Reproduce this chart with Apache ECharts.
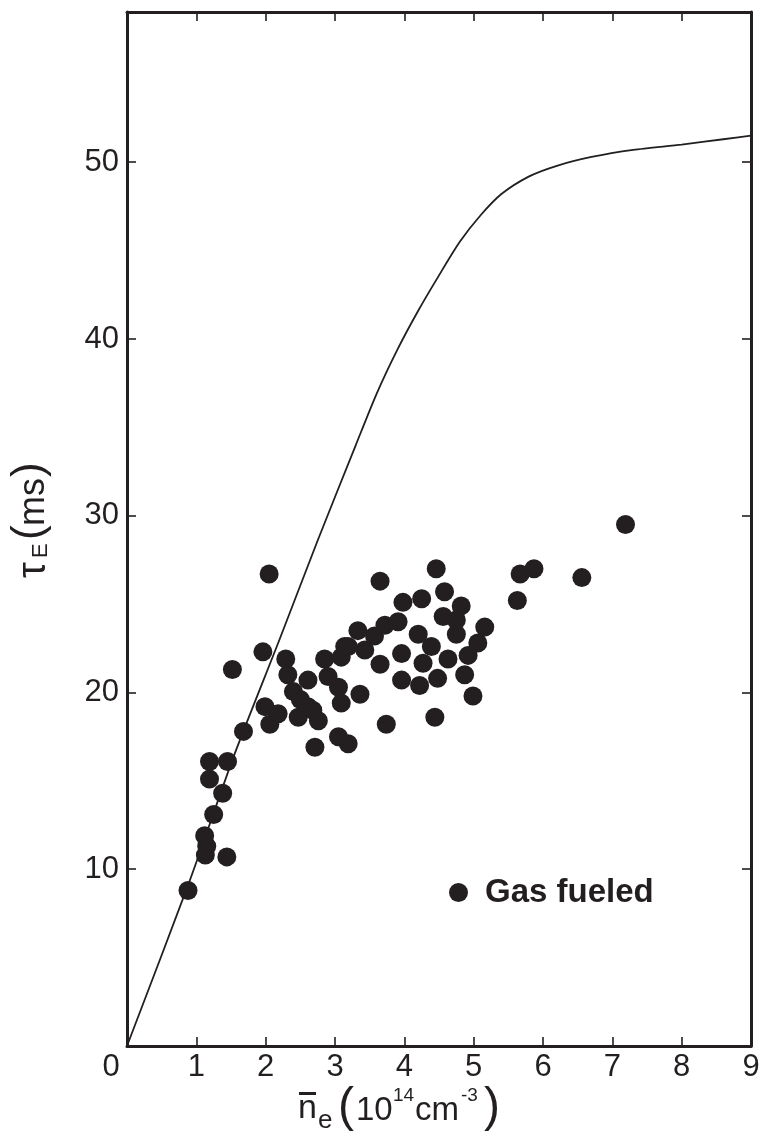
<!DOCTYPE html>
<html>
<head>
<meta charset="utf-8">
<script src="https://cdn.jsdelivr.net/npm/echarts@6/dist/echarts.min.js"></script>
<style>
html,body{margin:0;padding:0;background:#fff;}
#c{width:759px;height:1146px;}
</style>
</head>
<body>
<div id="c"></div>
<script>
// ---- data ----
var xTicks = [0,1,2,3,4,5,6,7,8,9];
var yTickLabels = [10,20,30,40,50];

var curveX = [0, 0.9, 1.55, 2.2, 2.75, 3.3, 3.6, 3.9, 4.2, 4.5, 4.8, 5.1, 5.4, 5.8, 6.2, 6.7, 7.3, 8.0, 8.6, 9.0];
var curveY = [0, 9.3, 16.5, 23.0, 28.6, 34.0, 36.9, 39.4, 41.6, 43.6, 45.5, 47.0, 48.2, 49.2, 49.8, 50.3, 50.7, 51.0, 51.3, 51.5];

var gasX = [0.88,1.13,1.44,1.15,1.12,1.25,1.38,1.19,1.19,1.45,1.68,1.52,1.96,2.05,
            1.99,2.06,2.18,2.29,2.32,2.40,2.47,2.61,2.61,2.76,2.85,2.71,3.05,3.05,3.09,3.14,3.19,
            2.50,2.68,2.90,
            3.36,3.19,3.09,3.33,3.43,3.57,3.65,3.72,3.65,3.74,3.91,3.96,3.96,3.98,4.20,4.22,4.25,4.27,
            4.39,4.44,4.46,4.48,4.56,4.58,4.63,4.75,4.75,4.82,4.87,4.92,4.99,5.06,5.16,
            5.63,5.67,5.87,6.56,7.19];
var gasY = [8.8,10.8,10.7,11.3,11.9,13.1,14.3,15.1,16.1,16.1,17.8,21.3,22.3,26.7,
            19.2,18.2,18.8,21.9,21.0,20.05,18.6,19.2,20.7,18.4,21.9,16.9,17.5,20.3,19.4,22.6,17.1,
            19.6,19.0,20.9,
            19.9,22.6,22.0,23.5,22.4,23.2,21.6,23.8,26.3,18.2,24.0,22.2,20.7,25.1,23.3,20.4,25.3,21.65,
            22.6,18.6,27.0,20.8,24.3,25.7,21.9,24.1,23.3,24.9,21.0,22.1,19.8,22.8,23.7,
            25.2,26.7,27.0,26.5,29.5];

var curveData = curveX.map(function(x,i){return [x, curveY[i]];});
var gasData = gasX.map(function(x,i){return [x, gasY[i]];});

var ink = '#231f20';
var fontFam = '"Liberation Sans", Arial, sans-serif';

var chart = echarts.init(document.getElementById('c'), null, {renderer:'canvas'});

var axisLineStyle = {color: ink, width: 3};
var tickStyle = {color: ink, width: 1.6};

chart.setOption({
  animation: false,
  backgroundColor: '#fff',
  grid: {left: 127, right: 8, top: 12, bottom: 100, outerBoundsMode: 'none', containLabel: false},
  legend: {
    data: ['Gas fueled'],
    left: 444, top: 871,
    icon: 'circle',
    itemWidth: 19, itemHeight: 19,
    textStyle: {fontSize: 33, fontWeight: 'bold', color: ink, fontFamily: fontFam, padding: [0,0,0,12]}
  },
  xAxis: [{
    type: 'value', min: 0, max: 9, interval: 1, position: 'bottom',
    axisLine: {show: true, onZero: false, lineStyle: axisLineStyle},
    axisTick: {show: true, inside: true, length: 9, lineStyle: tickStyle},
    splitLine: {show: false},
    axisLabel: {
      show: true, margin: 6, fontSize: 31, color: ink, fontFamily: fontFam,
      formatter: function(v){ return v === 0 ? '{z|0}' : (xTicks.indexOf(v) >= 0 ? String(v) : ''); },
      rich: {z: {fontSize: 31, color: ink, fontFamily: fontFam, padding: [0,32,0,0]}}
    }
  },{
    type: 'value', min: 0, max: 9, interval: 1, position: 'top',
    axisLine: {show: true, onZero: false, lineStyle: axisLineStyle},
    axisTick: {show: true, inside: true, length: 9, lineStyle: tickStyle},
    splitLine: {show: false}, axisLabel: {show: false}
  }],
  yAxis: [{
    type: 'value', min: 0, max: 58.5, interval: 10, position: 'left',
    axisLine: {show: true, onZero: false, lineStyle: axisLineStyle},
    axisTick: {show: true, inside: true, length: 9, lineStyle: tickStyle},
    splitLine: {show: false},
    axisLabel: {
      show: true, margin: 8, fontSize: 31, color: ink, fontFamily: fontFam,
      formatter: function(v){ return yTickLabels.indexOf(v) >= 0 ? String(v) : ''; }
    }
  },{
    type: 'value', min: 0, max: 58.5, interval: 10, position: 'right',
    axisLine: {show: true, onZero: false, lineStyle: axisLineStyle},
    axisTick: {show: true, inside: true, length: 9, lineStyle: tickStyle},
    splitLine: {show: false}, axisLabel: {show: false}
  }],
  series: [{
    name: 'curve', type: 'line', data: curveData,
    xAxisIndex: 0, yAxisIndex: 0,
    showSymbol: false, symbol: 'none',
    smooth: 0.25,
    lineStyle: {color: ink, width: 1.8},
    silent: true, z: 2
  },{
    name: 'Gas fueled', type: 'scatter', data: gasData,
    xAxisIndex: 0, yAxisIndex: 0,
    symbol: 'circle', symbolSize: 19,
    itemStyle: {color: ink, opacity: 1},
    z: 3
  }],
  graphic: [{
    type: 'group', left: 298, top: 1084,
    children: [
      {type: 'rect', shape: {x: 1, y: 8, width: 17, height: 3}, style: {fill: ink}},
      {type: 'text', x: 0, y: 8, style: {text: 'n', fontSize: 34, fontFamily: fontFam, fill: ink}},
      {type: 'text', x: 20, y: 24, style: {text: 'e', fontSize: 26, fontFamily: fontFam, fill: ink}},
      {type: 'text', x: 40, y: 0, style: {text: '(', fontSize: 48, fontFamily: fontFam, fill: ink}},
      {type: 'text', x: 58, y: 10, style: {text: '10', fontSize: 33, fontFamily: fontFam, fill: ink}},
      {type: 'text', x: 95, y: 2, style: {text: '14', fontSize: 19, fontFamily: fontFam, fill: ink}},
      {type: 'text', x: 117, y: 10, style: {text: 'cm', fontSize: 33, fontFamily: fontFam, fill: ink}},
      {type: 'text', x: 163, y: 2, style: {text: '-3', fontSize: 19, fontFamily: fontFam, fill: ink}},
      {type: 'text', x: 186, y: 0, style: {text: ')', fontSize: 48, fontFamily: fontFam, fill: ink}}
    ]
  },{
    type: 'group', x: 12, y: 578, rotation: Math.PI / 2,
    children: [
      {type: 'text', x: 0, y: 2, style: {text: '\u03c4', fontSize: 40, fontFamily: fontFam, fill: ink}},
      {type: 'text', x: 20, y: 18, style: {text: 'E', fontSize: 22, fontFamily: fontFam, fill: ink}},
      {type: 'text', x: 38, y: -4, style: {text: '(', fontSize: 44, fontFamily: fontFam, fill: ink}},
      {type: 'text', x: 52, y: 4, style: {text: 'ms', fontSize: 36, fontFamily: fontFam, fill: ink}},
      {type: 'text', x: 101, y: -4, style: {text: ')', fontSize: 44, fontFamily: fontFam, fill: ink}}
    ]
  }]
});
</script>
</body>
</html>
